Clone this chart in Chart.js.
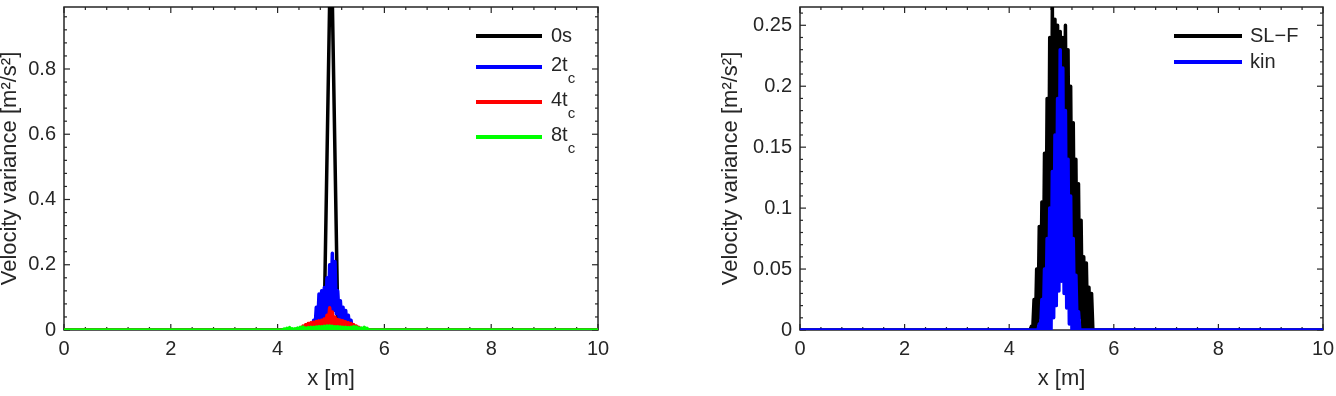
<!DOCTYPE html>
<html>
<head>
<meta charset="utf-8">
<script src="https://cdn.jsdelivr.net/npm/chart.js@4.4.0/dist/chart.umd.min.js"></script>
<style>
  html, body { margin: 0; padding: 0; background: #fff; overflow: hidden; }
  .panel { position: absolute; top: 0; height: 396px; }
  #leftPanel { left: -3px; width: 623px; }
  #rightPanel { left: 700px; width: 636px; }
</style>
</head>
<body>
<div class="panel" id="leftPanel"><canvas id="chartLeft" width="623" height="396"></canvas></div>
<div class="panel" id="rightPanel"><canvas id="chartRight" width="636" height="396"></canvas></div>
<script>
const xTicks = [0, 2, 4, 6, 8, 10]
const yTicksLeft = [0, 0.2, 0.4, 0.6, 0.8]
const yTicksRight = [0, 0.05, 0.1, 0.15, 0.2, 0.25]

// ---- left panel: variance spike at 0s, 2tc, 4tc, 8tc ----
const xSpike = [0, 4.87, 5.0, 5.13, 10]
const var0s = [0, 0, 1.25, 0, 0]

// 0, then 4.100 .. 5.700 every 0.025, then 10
const xGridLeft = [0,
  4.100, 4.125, 4.150, 4.175, 4.200, 4.225, 4.250, 4.275, 4.300, 4.325, 4.350, 4.375, 4.400, 4.425, 4.450, 4.475,
  4.500, 4.525, 4.550, 4.575, 4.600, 4.625, 4.650, 4.675, 4.700, 4.725, 4.750, 4.775, 4.800, 4.825, 4.850, 4.875,
  4.900, 4.925, 4.950, 4.975, 5.000, 5.025, 5.050, 5.075, 5.100, 5.125, 5.150, 5.175, 5.200, 5.225, 5.250, 5.275,
  5.300, 5.325, 5.350, 5.375, 5.400, 5.425, 5.450, 5.475, 5.500, 5.525, 5.550, 5.575, 5.600, 5.625, 5.650, 5.675,
  5.700,
  10]
const var2tc = [0,
  0, 0, 0, 0, 0, 0, 0, 0, 0, 0, 0, 0, 0, 0, 0, 0,
  0, 0, 0, 0, 0, 0.01, 0, 0.03, 0.005, 0.07, 0.01, 0.11, 0.02, 0.12, 0.03, 0.13,
  0.04, 0.16, 0.05, 0.2, 0.06, 0.235, 0.06, 0.21, 0.05, 0.12, 0.04, 0.09, 0.03, 0.07, 0.02, 0.06,
  0.01, 0.045, 0.005, 0.03, 0, 0.01, 0, 0, 0, 0, 0, 0, 0, 0, 0, 0,
  0,
  0]
const var4tc = [0,
  0, 0, 0, 0, 0, 0, 0, 0, 0, 0, 0, 0, 0, 0, 0.005, 0.012,
  0.002, 0.016, 0.003, 0.02, 0.004, 0.022, 0.005, 0.024, 0.006, 0.026, 0.007, 0.028, 0.008, 0.03, 0.01, 0.034,
  0.012, 0.045, 0.015, 0.068, 0.015, 0.055, 0.012, 0.04, 0.01, 0.032, 0.008, 0.03, 0.007, 0.028, 0.006, 0.025,
  0.005, 0.022, 0.004, 0.02, 0.003, 0.016, 0.002, 0.012, 0.001, 0.008, 0, 0, 0, 0, 0, 0,
  0,
  0]
const var8tc = [0,
  0, 0.003, 0, 0.005, 0.001, 0.007, 0.001, 0.004, 0, 0.004, 0.001, 0.006, 0.001, 0.008, 0.002, 0.009,
  0.002, 0.006, 0.002, 0.007, 0.002, 0.008, 0.002, 0.008, 0.003, 0.009, 0.003, 0.01, 0.003, 0.01, 0.004, 0.011,
  0.004, 0.012, 0.004, 0.012, 0.004, 0.011, 0.004, 0.01, 0.003, 0.01, 0.003, 0.009, 0.003, 0.008, 0.002, 0.008,
  0.002, 0.007, 0.002, 0.008, 0.002, 0.01, 0.002, 0.009, 0.002, 0.006, 0.001, 0.006, 0.001, 0.008, 0.001, 0.005,
  0,
  0]
const namesLeft = ['0s', '2t_c', '4t_c', '8t_c']

// ---- right panel: SL-F vs kinetic ----
// 0, then 4.400 .. 5.650 every 0.025, then 10
const xGridRight = [0,
  4.400, 4.425, 4.450, 4.475, 4.500, 4.525, 4.550, 4.575, 4.600, 4.625, 4.650, 4.675, 4.700, 4.725, 4.750, 4.775,
  4.800, 4.825, 4.850, 4.875, 4.900, 4.925, 4.950, 4.975, 5.000, 5.025, 5.050, 5.075, 5.100, 5.125, 5.150, 5.175,
  5.200, 5.225, 5.250, 5.275, 5.300, 5.325, 5.350, 5.375, 5.400, 5.425, 5.450, 5.475, 5.500, 5.525, 5.550, 5.575,
  5.600, 5.625, 5.650,
  10]
const varSLF = [0,
  0, 0.003, 0, 0.025, 0, 0.05, 0.005, 0.085, 0.01, 0.105, 0.02, 0.145, 0.04, 0.19, 0.06, 0.24,
  0.08, 0.265, 0.1, 0.255, 0.12, 0.25, 0.13, 0.245, 0.14, 0.24, 0.12, 0.25, 0.1, 0.23, 0.08, 0.2,
  0.06, 0.17, 0.04, 0.14, 0.02, 0.12, 0.01, 0.09, 0, 0.06, 0, 0.055, 0, 0.035, 0, 0.03,
  0, 0, 0,
  0]
const varKin = [0,
  0, 0, 0, 0, 0, 0, 0, 0.005, 0, 0.025, 0, 0.05, 0, 0.075, 0, 0.1,
  0, 0.13, 0.01, 0.16, 0.02, 0.19, 0.032, 0.23, 0.04, 0.215, 0.03, 0.18, 0.018, 0.14, 0.005, 0.11,
  0, 0.075, 0, 0.045, 0, 0.015, 0, 0, 0, 0, 0, 0, 0, 0, 0, 0,
  0, 0, 0,
  0]
const namesRight = ['SL\u2212F', 'kin']

const FONT = "'Liberation Sans', Arial, Helvetica, sans-serif"
const TEXT = '#262626'

const toPoints = (xs, ys) => xs.map((x, i) => ({ x, y: ys[i] }))

// MATLAB style box with inward ticks on all four sides
const axesBox = {
  id: 'axesBox',
  beforeDatasetsDraw(chart, args, opts) {
    const { ctx, chartArea: a, scales: { x, y } } = chart
    ctx.save()
    ctx.strokeStyle = TEXT
    ctx.lineWidth = 1.5
    ctx.strokeRect(a.left, a.top, a.right - a.left, a.bottom - a.top)
    ctx.lineWidth = 1.2
    const seg = (x1, y1, x2, y2) => { ctx.beginPath(); ctx.moveTo(x1, y1); ctx.lineTo(x2, y2); ctx.stroke() }
    const isMajor = (v, step) => Math.abs(v / step - Math.round(v / step)) < 1e-6
    for (let i = 0; i * opts.xMinor <= x.max + 1e-9; i++) {
      const v = i * opts.xMinor
      const px = x.getPixelForValue(v)
      const len = isMajor(v, opts.xMajor) ? 6 : 3
      seg(px, a.bottom, px, a.bottom - len)
      seg(px, a.top, px, a.top + len)
    }
    for (let i = 0; i * opts.yMinor <= y.max + 1e-9; i++) {
      const v = i * opts.yMinor
      const py = y.getPixelForValue(v)
      const len = isMajor(v, opts.yMajor) ? 6 : 3
      seg(a.left, py, a.left + len, py)
      seg(a.right, py, a.right - len, py)
    }
    ctx.restore()
  }
}

// legend with subscripts ("2t_c" -> 2t with subscript c)
const subLegend = {
  id: 'subLegend',
  afterDraw(chart, args, opts) {
    const ctx = chart.ctx
    ctx.save()
    opts.names.forEach((name, i) => {
      const y = opts.rows[i]
      ctx.strokeStyle = opts.colors[i]
      ctx.lineWidth = 4
      ctx.beginPath(); ctx.moveTo(opts.x0, y); ctx.lineTo(opts.x1, y); ctx.stroke()
      const [main, sub] = name.split('_')
      ctx.fillStyle = TEXT
      ctx.textAlign = 'left'
      ctx.textBaseline = 'middle'
      ctx.font = `20px ${FONT}`
      ctx.fillText(main, opts.tx, sub ? y - 2 : y)
      if (sub) {
        const w = ctx.measureText(main).width
        ctx.font = `15px ${FONT}`
        ctx.fillText(sub, opts.tx + w, y + 12)
      }
    })
    ctx.restore()
  }
}

function makeChart(canvasId, cfg) {
  const ctx = document.getElementById(canvasId).getContext('2d')
  return new Chart(ctx, {
    type: 'line',
    data: {
      datasets: cfg.series.map(s => ({
        data: toPoints(s.xs, s.ys),
        borderColor: s.color,
        borderWidth: 3.5,
        borderJoinStyle: 'round',
        borderCapStyle: 'round',
        pointRadius: 0,
        tension: 0,
        fill: false,
        order: s.order,
      })),
    },
    options: {
      responsive: false,
      animation: false,
      events: [],
      layout: { padding: { left: 0, top: 7, right: cfg.padRight, bottom: 0 } },
      plugins: {
        legend: { display: false },
        tooltip: { enabled: false },
        axesBox: cfg.box,
        subLegend: cfg.legend,
      },
      scales: {
        x: {
          type: 'linear',
          min: 0,
          max: 10,
          grid: { display: false, drawTicks: false },
          border: { display: false },
          afterBuildTicks: (scale) => { scale.ticks = xTicks.map(v => ({ value: v })) },
          afterFit: (scale) => { scale.height = 66; scale.paddingLeft = 0; scale.paddingRight = 0 },
          ticks: { color: TEXT, padding: 7, maxRotation: 0, font: { family: FONT, size: 20 } },
          title: { display: true, text: 'x [m]', color: TEXT, padding: { top: 0, bottom: 4 }, font: { family: FONT, size: 22 } },
        },
        y: {
          type: 'linear',
          min: 0,
          max: cfg.yMax,
          grid: { display: false, drawTicks: false },
          border: { display: false },
          afterBuildTicks: (scale) => { scale.ticks = cfg.yTicks.map(v => ({ value: v })) },
          afterFit: (scale) => { scale.width = cfg.yAxisWidth; scale.paddingTop = 0; scale.paddingBottom = 0 },
          ticks: {
            color: TEXT, padding: 8, font: { family: FONT, size: 20 },
            callback: (v) => String(Number(v.toFixed(3))),
          },
          title: {
            display: true, text: 'Velocity variance [m\u00b2/s\u00b2]', color: TEXT,
            padding: { top: cfg.titlePad, bottom: 0 }, font: { family: FONT, size: 22 },
          },
        },
      },
    },
    plugins: [axesBox, subLegend],
  })
}

makeChart('chartLeft', {
  series: [
    { xs: xSpike, ys: var0s, color: '#000000', order: 3 },
    { xs: xGridLeft, ys: var2tc, color: '#0000ff', order: 2 },
    { xs: xGridLeft, ys: var4tc, color: '#ff0000', order: 1 },
    { xs: xGridLeft, ys: var8tc, color: '#00ff00', order: 0 },
  ],
  yMax: 0.99,
  yTicks: yTicksLeft,
  yAxisWidth: 67,
  padRight: 22,
  titlePad: 0,
  box: { xMajor: 2, xMinor: 0.4, yMajor: 0.2, yMinor: 0.04 },
  legend: { names: namesLeft, colors: ['#000000', '#0000ff', '#ff0000', '#00ff00'], rows: [36, 67, 102, 137], x0: 479, x1: 545, tx: 554 },
})

makeChart('chartRight', {
  series: [
    { xs: xGridRight, ys: varSLF, color: '#000000', order: 1 },
    { xs: xGridRight, ys: varKin, color: '#0000ff', order: 0 },
  ],
  yMax: 0.265,
  yTicks: yTicksRight,
  yAxisWidth: 100,
  padRight: 13,
  titlePad: 18,
  box: { xMajor: 2, xMinor: 0.4, yMajor: 0.05, yMinor: 0.01 },
  legend: { names: namesRight, colors: ['#000000', '#0000ff'], rows: [36, 62], x0: 474, x1: 542, tx: 550 },
})
</script>
</body>
</html>
